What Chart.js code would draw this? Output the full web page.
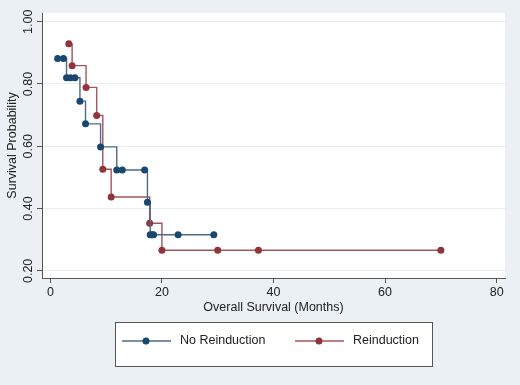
<!DOCTYPE html>
<html>
<head>
<meta charset="utf-8">
<script src="https://cdn.jsdelivr.net/npm/chart.js@4.4.1/dist/chart.umd.min.js"></script>
<style>
  body { margin: 0; background: #eaf0f4; }
  #wrap { width: 520px; height: 385px; }
</style>
</head>
<body>
<div id="wrap"><canvas id="km" width="520" height="385"></canvas></div>
<script>
// survival curves (months, probability)
const noReindMonths = [1.3, 2.35, 2.9, 3.6, 4.4, 5.3, 6.3, 9.0, 11.9, 12.9, 16.9, 17.4, 17.9, 18.2, 18.5, 22.9, 29.3];
const noReindSurv   = [0.882, 0.882, 0.82, 0.82, 0.82, 0.745, 0.672, 0.598, 0.524, 0.524, 0.524, 0.42, 0.316, 0.316, 0.316, 0.316, 0.316];

const reindMonths = [3.3, 3.9, 6.4, 8.3, 9.4, 10.9, 17.8, 20.0, 30.0, 37.3, 70.0];
const reindSurv   = [0.929, 0.859, 0.789, 0.699, 0.526, 0.437, 0.353, 0.266, 0.266, 0.266, 0.266];

const seriesNames = ['No Reinduction', 'Reinduction'];
const xTicks = [0, 20, 40, 60, 80];
const yTicks = [0.2, 0.4, 0.6, 0.8, 1.0];

const fontFam = '"Liberation Sans", Arial, sans-serif';
const navy = '#1a476f', maroon = '#90353b';

function toPoints(xs, ys) {
    return xs.map((x, i) => ({ x: x, y: ys[i] }));
}

// white plot region on the tinted page
const plotBg = {
    id: 'plotBg',
    beforeDraw(chart) {
        const a = chart.chartArea, ctx = chart.ctx;
        ctx.save();
        ctx.fillStyle = '#ffffff';
        ctx.fillRect(a.left, a.top, a.right - a.left, a.bottom - a.top);
        ctx.restore();
    }
};

// Stata style legend box under the axis
const boxLegend = {
    id: 'boxLegend',
    afterDraw(chart) {
        const ctx = chart.ctx;
        ctx.save();
        ctx.fillStyle = '#ffffff';
        ctx.fillRect(115, 322, 317, 44);
        ctx.strokeStyle = '#555';
        ctx.lineWidth = 1;
        ctx.strokeRect(115.5, 322.5, 317, 44);

        const starts = [122, 295];
        chart.data.datasets.forEach((ds, i) => {
            const x0 = starts[i], y = 341;
            ctx.strokeStyle = ds.borderColor;
            ctx.lineWidth = 1.4;
            ctx.beginPath();
            ctx.moveTo(x0, y);
            ctx.lineTo(x0 + 49, y);
            ctx.stroke();
            ctx.fillStyle = ds.pointBackgroundColor;
            ctx.beginPath();
            ctx.arc(x0 + 24, y, 3.5, 0, Math.PI * 2);
            ctx.fill();
            ctx.fillStyle = '#222';
            ctx.font = '12.5px ' + fontFam;
            ctx.textBaseline = 'middle';
            ctx.fillText(ds.label, x0 + 58, y);
        });
        ctx.restore();
    }
};

new Chart(document.getElementById('km'), {
    type: 'line',
    data: {
        datasets: [
            {
                label: seriesNames[0],
                data: toPoints(noReindMonths, noReindSurv),
                stepped: 'before',
                borderColor: '#4f6a86',
                borderWidth: 1.4,
                pointRadius: 3.5,
                pointBackgroundColor: navy,
                pointBorderWidth: 0,
                fill: false
            },
            {
                label: seriesNames[1],
                data: toPoints(reindMonths, reindSurv),
                stepped: 'before',
                borderColor: '#a3565b',
                borderWidth: 1.4,
                pointRadius: 3.5,
                pointBackgroundColor: maroon,
                pointBorderWidth: 0,
                fill: false
            }
        ]
    },
    options: {
        responsive: false,
        animation: false,
        layout: { padding: { top: 13, right: 15, bottom: 66, left: 0 } },
        plugins: {
            legend: { display: false },
            tooltip: { enabled: false }
        },
        scales: {
            x: {
                type: 'linear',
                min: -1.5,
                max: 81.5,
                afterBuildTicks: (s) => { s.ticks = xTicks.map(v => ({ value: v })); },
                afterFit: (s) => { s.height = 41; },
                ticks: {
                    color: '#222',
                    font: { family: fontFam, size: 12.5 },
                    padding: 2,
                    maxRotation: 0,
                    callback: (v) => String(v)
                },
                grid: { drawOnChartArea: false, tickColor: '#555', tickLength: 5 },
                border: { color: '#555' },
                title: {
                    display: true,
                    text: 'Overall Survival (Months)',
                    color: '#222',
                    font: { family: fontFam, size: 12.5 },
                    padding: { top: 4, bottom: 4 }
                }
            },
            y: {
                min: 0.177,
                max: 1.028,
                afterBuildTicks: (s) => { s.ticks = yTicks.map(v => ({ value: v })); },
                afterFit: (s) => { s.width = 42; },
                ticks: {
                    color: '#222',
                    font: { family: fontFam, size: 12.5 },
                    minRotation: 90,
                    maxRotation: 90,
                    crossAlign: 'center',
                    padding: -4,
                    callback: (v) => Number(v).toFixed(2)
                },
                grid: { color: '#e9eef2', tickColor: '#555', tickLength: 5 },
                border: { color: '#555' },
                title: {
                    display: true,
                    text: 'Survival Probability',
                    color: '#222',
                    font: { family: fontFam, size: 12.5 },
                    padding: { top: 5, bottom: 4 }
                }
            }
        }
    },
    plugins: [plotBg, boxLegend]
});
</script>
</body>
</html>
